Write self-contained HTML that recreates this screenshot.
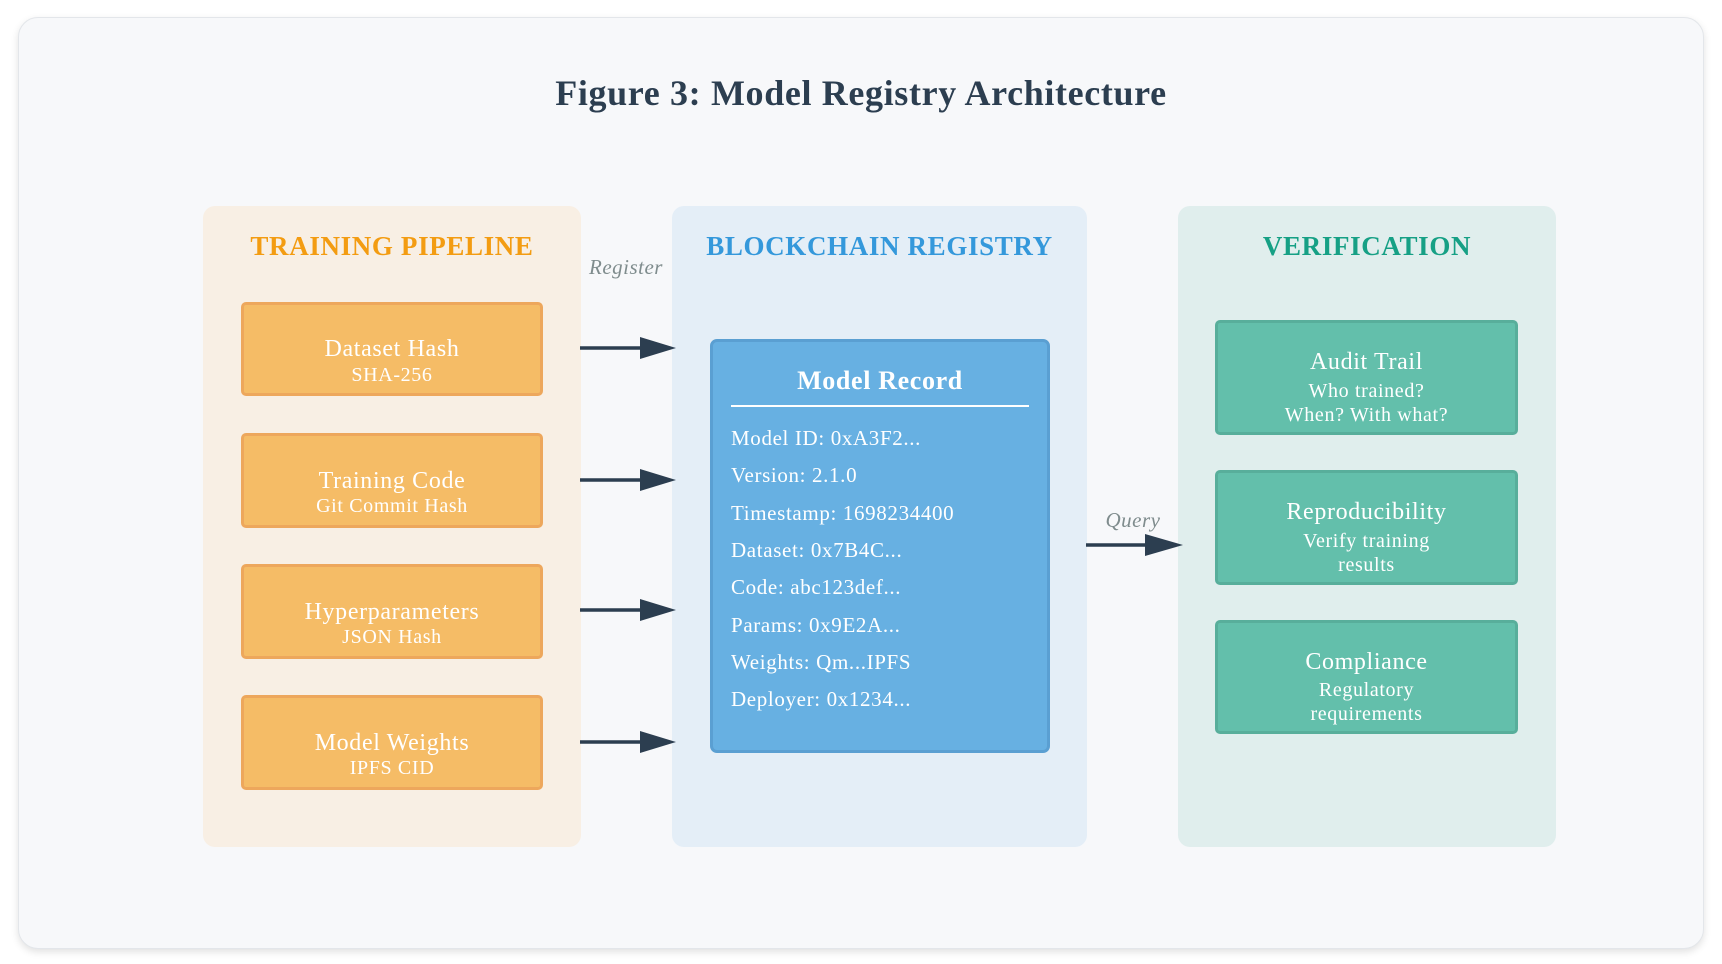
<!DOCTYPE html>
<html><head><meta charset="utf-8"><style>
*{margin:0;padding:0;box-sizing:border-box}
body{width:1722px;height:964px;background:#fff;position:relative;font-family:"Liberation Serif",serif;overflow:hidden;letter-spacing:0.04em}
.abs{position:absolute}
.card{left:18px;top:17px;width:1686px;height:932px;background:#f7f8fa;border:1px solid #e3e6ea;border-radius:20px;box-shadow:0 3px 8px rgba(0,0,0,0.12)}
.title{left:0;width:1722px;top:72px;text-align:center;font-size:36px;font-weight:bold;color:#2c3e50}
.panel{border-radius:12px}
.ph{text-align:center;font-size:27px;font-weight:bold}
.ob{background:#f5bc66;border:3px solid #eda75c;border-radius:5px;color:#fff;text-align:center}
.tb{background:#63bfab;border:3px solid #58ae9b;border-radius:5px;color:#fff;text-align:center}
.t{position:absolute;left:0;right:0;font-size:24px;line-height:1}
.s{position:absolute;left:0;right:0;font-size:20px;line-height:1}
.f{position:absolute;left:18px;font-size:21px;color:#fff;line-height:1}
</style></head><body>
<div class="abs card"></div>
<div class="abs title">Figure 3: Model Registry Architecture</div>

<div class="abs panel" style="left:203px;top:206px;width:378px;height:641px;background:#f8efe4"></div>
<div class="abs panel" style="left:672px;top:206px;width:415px;height:641px;background:#e4eef7"></div>
<div class="abs panel" style="left:1178px;top:206px;width:378px;height:641px;background:#e0eeed"></div>

<div class="abs ph" style="left:203px;width:378px;top:231px;color:#f39c12">TRAINING PIPELINE</div>
<div class="abs ph" style="left:672px;width:415px;top:231px;color:#3498db">BLOCKCHAIN REGISTRY</div>
<div class="abs ph" style="left:1178px;width:378px;top:231px;color:#16a085">VERIFICATION</div>

<div class="abs ob" style="left:241px;top:302px;width:302px;height:94px"><div class="t" style="top:32px">Dataset Hash</div><div class="s" style="top:60px">SHA-256</div></div>
<div class="abs ob" style="left:241px;top:433px;width:302px;height:95px"><div class="t" style="top:33px">Training Code</div><div class="s" style="top:60px">Git Commit Hash</div></div>
<div class="abs ob" style="left:241px;top:564px;width:302px;height:95px"><div class="t" style="top:33px">Hyperparameters</div><div class="s" style="top:60px">JSON Hash</div></div>
<div class="abs ob" style="left:241px;top:695px;width:302px;height:95px"><div class="t" style="top:33px">Model Weights</div><div class="s" style="top:60px">IPFS CID</div></div>

<svg class="abs" style="left:0;top:0" width="1722" height="964">
<g stroke="#2c3e50" stroke-width="3.5" fill="#2c3e50">
<line x1="580" y1="348" x2="645" y2="348"/><polygon points="640,337 676,348 640,359" stroke="none"/>
<line x1="580" y1="480" x2="645" y2="480"/><polygon points="640,469 676,480 640,491" stroke="none"/>
<line x1="580" y1="610" x2="645" y2="610"/><polygon points="640,599 676,610 640,621" stroke="none"/>
<line x1="580" y1="742" x2="645" y2="742"/><polygon points="640,731 676,742 640,753" stroke="none"/>
<line x1="1086" y1="545" x2="1150" y2="545"/><polygon points="1145,534 1183,545 1145,556" stroke="none"/>
</g>
<text x="626" y="274" text-anchor="middle" font-family="Liberation Serif" font-style="italic" font-size="21" letter-spacing="0.5" fill="#7f8c8d">Register</text>
<text x="1133" y="527" text-anchor="middle" font-family="Liberation Serif" font-style="italic" font-size="21" letter-spacing="0.5" fill="#7f8c8d">Query</text>
</svg>

<div class="abs" style="left:710px;top:339px;width:340px;height:414px;background:#67b0e2;border:3px solid #5a9fd2;border-radius:7px">
<div style="position:absolute;left:0;right:0;top:24px;text-align:center;font-size:26px;font-weight:bold;color:#fff">Model Record</div>
<div style="position:absolute;left:18px;right:18px;top:63px;height:2px;background:#fff"></div>
<div class="f" style="top:86px">Model ID: 0xA3F2...</div>
<div class="f" style="top:123px">Version: 2.1.0</div>
<div class="f" style="top:161px">Timestamp: 1698234400</div>
<div class="f" style="top:198px">Dataset: 0x7B4C...</div>
<div class="f" style="top:235px">Code: abc123def...</div>
<div class="f" style="top:273px">Params: 0x9E2A...</div>
<div class="f" style="top:310px">Weights: Qm...IPFS</div>
<div class="f" style="top:347px">Deployer: 0x1234...</div>
</div>

<div class="abs tb" style="left:1215px;top:320px;width:303px;height:115px"><div class="t" style="top:27px">Audit Trail</div><div class="s" style="top:58px">Who trained?</div><div class="s" style="top:82px">When? With what?</div></div>
<div class="abs tb" style="left:1215px;top:470px;width:303px;height:115px"><div class="t" style="top:27px">Reproducibility</div><div class="s" style="top:58px">Verify training</div><div class="s" style="top:82px">results</div></div>
<div class="abs tb" style="left:1215px;top:620px;width:303px;height:114px"><div class="t" style="top:27px">Compliance</div><div class="s" style="top:57px">Regulatory</div><div class="s" style="top:81px">requirements</div></div>
</body></html>
